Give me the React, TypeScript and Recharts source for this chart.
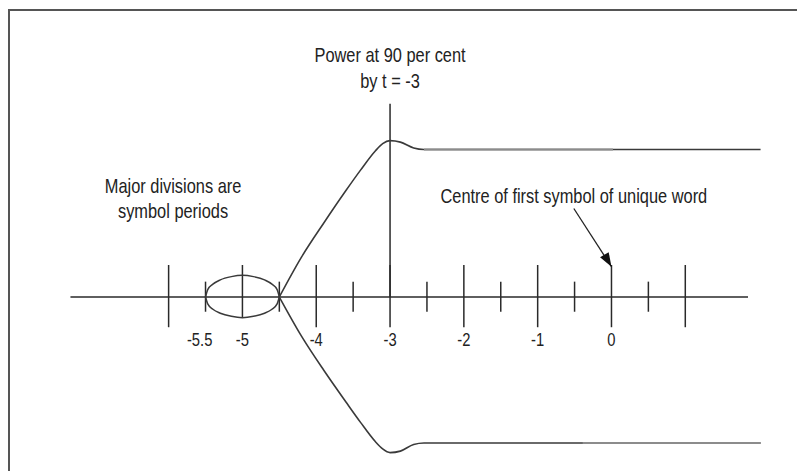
import { ComposedChart, Line, XAxis, YAxis, ReferenceLine, ReferenceDot } from 'recharts';

// symbol-period ticks along the time axis
const majorTicks = [-6, -5, -4, -3, -2, -1, 0, 1];
const minorTicks = [-5.5, -4.5, -3.5, -2.5, -1.5, -0.5, 0.5];
const tickLabels = ['-5.5', '-5', '-4', '-3', '-2', '-1', '0'];
const tickLabelPos = [-5.58, -5, -4, -3, -2, -1, 0];

// power envelope (normalised, steady state = 1)
const envX = [-4.5, -4.2, -3.9, -3.6, -3.4, -3.2, -3.1, -3.0, -2.86, -2.68, -2.54, 2.02];
const upperEnv = [0, 0.27, 0.5, 0.72, 0.86, 0.99, 1.04, 1.06, 1.05, 1.01, 1.0, 1.0];
const lowerEnv = [0, -0.265, -0.495, -0.71, -0.85, -0.98, -1.03, -1.055, -1.045, -1.0, -0.99, -0.99];

// ellipse round t = -5
const ellX = [-5.5, -5.47, -5.4, -5.3, -5.15, -5, -4.85, -4.7, -4.6, -4.53, -4.5];
const ellTop = [0, 0.05, 0.087, 0.116, 0.138, 0.147, 0.138, 0.116, 0.087, 0.05, 0];
const ellBottom = [0, -0.047, -0.083, -0.11, -0.131, -0.14, -0.131, -0.11, -0.083, -0.047, 0];

// lighter printed stretches of the flat envelope
const upperGray = [-2.54, 0.02];
const lowerGray = [-0.39, 2.02];

const noteText = ['Power at 90 per cent', 'by t = -3', 'Major divisions are', 'symbol periods', 'Centre of first symbol of unique word'];
const noteX = [-3, -3, -5.94, -5.94, -0.51];
const noteY = [1.59, 1.415, 0.702, 0.536, 0.64];

const axisRange = [-7.33, 1.85];
const powerMarkerTop = 1.31;
const arrowFrom = [-0.51, 0.6];
const arrowTo = [0, 0.205];

const upperEnvData = envX.map((x, i) => ({ x, y: upperEnv[i] }));
const lowerEnvData = envX.map((x, i) => ({ x, y: lowerEnv[i] }));
const ellTopData = ellX.map((x, i) => ({ x, y: ellTop[i] }));
const ellBottomData = ellX.map((x, i) => ({ x, y: ellBottom[i] }));

const INK = '#2a2a2a';
const FONT = "'Liberation Sans', Arial, sans-serif";

// condensed look: squeeze regular sans horizontally
const textShape = (label: string, size = 20) => (p: any) => (
  <g transform={`translate(${p.cx},${p.cy}) scale(0.82,1)`}>
    <text x={0} y={0} textAnchor="middle" fontFamily={FONT} fontSize={size} fill="#222">
      {label}
    </text>
  </g>
);

const arrowHead = (p: any) => (
  <g transform={`translate(${p.cx},${p.cy}) rotate(59.5)`}>
    <polygon points="0,0 -14,-5 -14,5" fill="#111" />
  </g>
);

export default function App() {
  return (
    <div style={{ position: 'relative', width: 797, height: 463 }}>
      <div style={{ position: 'absolute', left: 0, top: 1, right: -8, bottom: -8, borderTop: '2px solid #555', borderLeft: '2px solid #555' }} />
      <ComposedChart width={797} height={463} margin={{ top: 23.5, right: 9, bottom: 4.4, left: 13 }}>
        <XAxis type="number" dataKey="x" domain={[-8, 2.5]} allowDataOverflow hide />
        <YAxis type="number" dataKey="y" domain={[-1.15, 1.8]} allowDataOverflow hide />

        <ReferenceLine segment={[{ x: axisRange[0], y: 0 }, { x: axisRange[1], y: 0 }]} stroke={INK} strokeWidth={1.5} />
        {majorTicks.map((t) => (
          <ReferenceLine key={'M' + t} segment={[{ x: t, y: t === -5 ? -0.142 : -0.205 }, { x: t, y: 0.217 }]} stroke={INK} strokeWidth={1.5} />
        ))}
        {minorTicks.map((t) => (
          <ReferenceLine key={'m' + t} segment={[{ x: t, y: -0.1 }, { x: t, y: 0.104 }]} stroke={INK} strokeWidth={1.5} />
        ))}
        <ReferenceLine segment={[{ x: -3, y: 0 }, { x: -3, y: powerMarkerTop }]} stroke={INK} strokeWidth={1.5} />

        <Line data={upperEnvData} dataKey="y" type="monotone" stroke="#3a3a3a" strokeWidth={1.6} dot={false} isAnimationActive={false} />
        <Line data={lowerEnvData} dataKey="y" type="monotone" stroke="#3a3a3a" strokeWidth={1.6} dot={false} isAnimationActive={false} />
        <Line data={ellTopData} dataKey="y" type="monotone" stroke="#3a3a3a" strokeWidth={1.5} dot={false} isAnimationActive={false} />
        <Line data={ellBottomData} dataKey="y" type="monotone" stroke="#3a3a3a" strokeWidth={1.5} dot={false} isAnimationActive={false} />
        <ReferenceLine segment={[{ x: upperGray[0], y: 1.0 }, { x: upperGray[1], y: 1.0 }]} stroke="#8c8c8c" strokeWidth={2} />
        <ReferenceLine segment={[{ x: lowerGray[0], y: -0.99 }, { x: lowerGray[1], y: -0.99 }]} stroke="#8c8c8c" strokeWidth={2} />

        <ReferenceLine segment={[{ x: arrowFrom[0], y: arrowFrom[1] }, { x: arrowTo[0], y: arrowTo[1] }]} stroke="#222" strokeWidth={1.3} />
        <ReferenceDot x={arrowTo[0]} y={arrowTo[1]} r={0} shape={arrowHead} />

        {tickLabels.map((l, i) => (
          <ReferenceDot key={'t' + l} x={tickLabelPos[i]} y={-0.332} r={0} shape={textShape(l, 18)} />
        ))}
        {noteText.map((n, i) => (
          <ReferenceDot key={'n' + i} x={noteX[i]} y={noteY[i]} r={0} shape={textShape(n)} />
        ))}
      </ComposedChart>
    </div>
  );
}
